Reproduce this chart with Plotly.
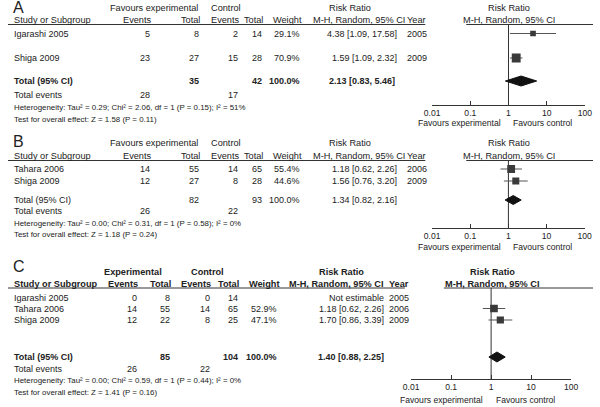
import plotly.graph_objects as go
import math

# ---------------- DATA ----------------
# Panel A
A_studies = ["Igarashi 2005", "Shiga 2009"]
A_exp_events = [5, 23]
A_exp_total = [8, 27]
A_ctl_events = [2, 15]
A_ctl_total = [14, 28]
A_weight = [29.1, 70.9]
A_rr = [4.38, 1.59]
A_lo = [1.09, 1.09]
A_hi = [17.58, 2.32]
A_year = [2005, 2009]
A_total = {"exp": 35, "ctl": 42, "rr": 2.13, "lo": 0.83, "hi": 5.46, "ev_exp": 28, "ev_ctl": 17}
A_het = "Heterogeneity: Tau² = 0.29; Chi² = 2.06, df = 1 (P = 0.15); I² = 51%"
A_test = "Test for overall effect: Z = 1.58 (P = 0.11)"

# Panel B
B_studies = ["Tahara 2006", "Shiga 2009"]
B_exp_events = [14, 12]
B_exp_total = [55, 27]
B_ctl_events = [14, 8]
B_ctl_total = [65, 28]
B_weight = [55.4, 44.6]
B_rr = [1.18, 1.56]
B_lo = [0.62, 0.76]
B_hi = [2.26, 3.20]
B_year = [2006, 2009]
B_total = {"exp": 82, "ctl": 93, "rr": 1.34, "lo": 0.82, "hi": 2.16, "ev_exp": 26, "ev_ctl": 22}
B_het = "Heterogeneity: Tau² = 0.00; Chi² = 0.31, df = 1 (P = 0.58); I² = 0%"
B_test = "Test for overall effect: Z = 1.18 (P = 0.24)"

# Panel C
C_studies = ["Igarashi 2005", "Tahara 2006", "Shiga 2009"]
C_exp_events = [0, 14, 12]
C_exp_total = [8, 55, 22]
C_ctl_events = [0, 14, 8]
C_ctl_total = [14, 65, 25]
C_weight = [None, 52.9, 47.1]
C_rr = [None, 1.18, 1.70]
C_lo = [None, 0.62, 0.86]
C_hi = [None, 2.26, 3.39]
C_year = [2005, 2006, 2009]
C_total = {"exp": 85, "ctl": 104, "rr": 1.40, "lo": 0.88, "hi": 2.25, "ev_exp": 26, "ev_ctl": 22}
C_het = "Heterogeneity: Tau² = 0.00; Chi² = 0.59, df = 1 (P = 0.44); I² = 0%"
C_test = "Test for overall effect: Z = 1.41 (P = 0.16)"

tick_vals = [0.01, 0.1, 1, 10, 100]
tick_text = ["0.01", "0.1", "1", "10", "100"]

# ---------------- STYLE / LAYOUT ----------------
W, H = 600, 407
FONT = "Liberation Sans, Arial, sans-serif"
TXT = "#222222"
LINE = "#333333"
FS = 9.0
FS_HEAD = 9.2
FS_FOOT = 7.9
FS_AX = 8.6
FS_LETTER = 16

panels = [
    dict(letter="A", letter_y=7.5, studies=A_studies, ee=A_exp_events, et=A_exp_total, ce=A_ctl_events,
         ct=A_ctl_total, w=A_weight, rr=A_rr, lo=A_lo, hi=A_hi, yr=A_year, tot=A_total, het=A_het, test=A_test,
         grp1="Favours experimental", bold_head=False, bold_total=True,
         h1=7.5, h2=20, ul=24.5, rows=[33.5, 58], total_y=81, ev_y=95, het_y=107, test_y=119,
         axis_y=105, fav_y=123, ax_l=435, ax_r=591.7, lul_end=428, rul_start=470,
         c_ee=147, c_et=197, c_ce=237, c_ct=262, c_w=301, c_rr=400, c_yr=408,
         h_grp1=150, h_grp2=224, h_rr=351, h_mh=312, h_w=303, dia_h=5),
    dict(letter="B", letter_y=141.5, studies=B_studies, ee=B_exp_events, et=B_exp_total, ce=B_ctl_events,
         ct=B_ctl_total, w=B_weight, rr=B_rr, lo=B_lo, hi=B_hi, yr=B_year, tot=B_total, het=B_het, test=B_test,
         grp1="Favours experimental", bold_head=False, bold_total=False,
         h1=143, h2=156, ul=160.5, rows=[169, 181], total_y=200, ev_y=211, het_y=223, test_y=234,
         axis_y=227.5, fav_y=247, ax_l=435, ax_r=591.5, lul_end=428, rul_start=470,
         c_ee=147, c_et=197, c_ce=237, c_ct=262, c_w=301, c_rr=400, c_yr=408,
         h_grp1=150, h_grp2=224, h_rr=351, h_mh=312, h_w=303, dia_h=4.5),
    dict(letter="C", letter_y=266.5, studies=C_studies, ee=C_exp_events, et=C_exp_total, ce=C_ctl_events,
         ct=C_ctl_total, w=C_weight, rr=C_rr, lo=C_lo, hi=C_hi, yr=C_year, tot=C_total, het=C_het, test=C_test,
         grp1="Experimental", bold_head=True, bold_total=True,
         h1=272, h2=284, ul=288, rows=[298, 308.5, 320], total_y=357, ev_y=369, het_y=380, test_y=392,
         axis_y=379, fav_y=400, ax_l=413.5, ax_r=577.5, lul_end=407, rul_start=447,
         c_ee=133, c_et=167, c_ce=208, c_ct=237, c_w=277, c_rr=387, c_yr=390,
         h_grp1=128, h_grp2=205, h_rr=342, h_mh=287, h_w=279, dia_h=5),
]

fig = go.Figure()
annotations = []
shapes = []


def txt(x, y, s, anchor="left", size=FS, bold=False):
    annotations.append(dict(
        x=x, y=y, xref="x", yref="y", text=(f"<b>{s}</b>" if bold else s),
        showarrow=False, xanchor=anchor, yanchor="middle", borderpad=0,
        font=dict(size=size, family=FONT, color=TXT)))


def hline(x0, x1, y):
    shapes.append(dict(type="line", xref="x", yref="y", x0=x0, x1=x1, y0=y, y1=y,
                       line=dict(color=LINE, width=1)))


layout_axes = {}
for i, p in enumerate(panels):
    bh = p["bold_head"]
    bt = p["bold_total"]
    # panel letter
    txt(4, p["letter_y"], p["letter"], size=FS_LETTER)
    # header row 1
    txt(p["h_grp1"], p["h1"], p["grp1"], "center", size=FS_HEAD, bold=bh)
    txt(p["h_grp2"], p["h1"], "Control", "center", size=FS_HEAD, bold=bh)
    txt(p["h_rr"], p["h1"], "Risk Ratio", "center", size=FS_HEAD, bold=bh)
    # header row 2
    txt(5, p["h2"], "Study or Subgroup", size=FS_HEAD, bold=bh)
    txt(p["c_ee"] + 1, p["h2"], "Events", "right", size=FS_HEAD, bold=bh)
    txt(p["c_et"] + 1, p["h2"], "Total", "right", size=FS_HEAD, bold=bh)
    txt(p["c_ce"] + 1, p["h2"], "Events", "right", size=FS_HEAD, bold=bh)
    txt(p["c_ct"] + 1, p["h2"], "Total", "right", size=FS_HEAD, bold=bh)
    txt(p["h_w"], p["h2"], "Weight", "right", size=FS_HEAD, bold=bh)
    txt(p["h_mh"], p["h2"], "M-H, Random, 95% CI", "left", size=FS_HEAD, bold=bh)
    txt(p["c_yr"], p["h2"], "Year", "left", size=FS_HEAD, bold=bh)
    hline(0, p["lul_end"], p["ul"])
    hline(p["rul_start"], 600, p["ul"])

    ax_center = p["ax_l"] + (p["ax_r"] - p["ax_l"]) / 2
    txt(ax_center + 1, p["h1"], "Risk Ratio", "center", size=FS_HEAD, bold=bh)
    txt(ax_center + 1, p["h2"], "M-H, Random, 95% CI", "center", size=FS_HEAD, bold=bh)

    # study rows
    for j, name in enumerate(p["studies"]):
        y = p["rows"][j]
        txt(5, y, name)
        txt(p["c_ee"], y, str(p["ee"][j]), "right")
        txt(p["c_et"], y, str(p["et"][j]), "right")
        txt(p["c_ce"], y, str(p["ce"][j]), "right")
        txt(p["c_ct"], y, str(p["ct"][j]), "right")
        if p["w"][j] is not None:
            txt(p["c_w"], y, f"{p['w'][j]:.1f}%", "right")
        if p["rr"][j] is not None:
            txt(p["c_rr"], y, f"{p['rr'][j]:.2f} [{p['lo'][j]:.2f}, {p['hi'][j]:.2f}]", "right")
        else:
            txt(p["c_rr"], y, "Not estimable", "right")
        txt(p["c_yr"], y, str(p["yr"][j]))

    t = p["tot"]
    txt(5, p["total_y"], "Total (95% CI)", bold=bt)
    txt(p["c_et"], p["total_y"], str(t["exp"]), "right", bold=bt)
    txt(p["c_ct"], p["total_y"], str(t["ctl"]), "right", bold=bt)
    txt(p["c_w"], p["total_y"], "100.0%", "right", bold=bt)
    txt(p["c_rr"] - (2 if p["letter"] == "A" else 0), p["total_y"],
        f"{t['rr']:.2f} [{t['lo']:.2f}, {t['hi']:.2f}]", "right", bold=bt)
    txt(5, p["ev_y"], "Total events")
    txt(p["c_ee"], p["ev_y"], str(t["ev_exp"]), "right")
    txt(p["c_ce"], p["ev_y"], str(t["ev_ctl"]), "right")
    txt(5, p["het_y"], p["het"], size=FS_FOOT)
    txt(5, p["test_y"], p["test"], size=FS_FOOT)

    # forest plot
    xa = f"x{i + 2}"
    fig.add_trace(go.Scatter(x=[1, 1], y=[p["ul"], p["axis_y"]], xaxis=xa, yaxis="y", mode="lines",
                             line=dict(color=LINE, width=1), hoverinfo="skip", showlegend=False))
    for j in range(len(p["studies"])):
        if p["rr"][j] is None:
            continue
        y = p["rows"][j]
        fig.add_trace(go.Scatter(x=[p["lo"][j], p["hi"][j]], y=[y, y], xaxis=xa, yaxis="y", mode="lines",
                                 line=dict(color="#555555", width=1), hoverinfo="skip", showlegend=False))
        fig.add_trace(go.Scatter(x=[p["rr"][j]], y=[y], xaxis=xa, yaxis="y", mode="markers",
                                 marker=dict(symbol="square", size=1.05 * math.sqrt(p["w"][j]),
                                             color="#3a3a3a", line=dict(width=0)),
                                 hoverinfo="skip", showlegend=False))
    yc = p["total_y"]
    dh = p["dia_h"]
    fig.add_trace(go.Scatter(x=[t["lo"], t["rr"], t["hi"], t["rr"], t["lo"]],
                             y=[yc, yc - dh, yc, yc + dh, yc], xaxis=xa, yaxis="y", mode="lines",
                             fill="toself", fillcolor="#111111", line=dict(color="#111111", width=1),
                             hoverinfo="skip", showlegend=False))
    txt(ax_center - 7, p["fav_y"], "Favours experimental", "right", size=FS_AX)
    txt(ax_center + 4, p["fav_y"], "Favours control", "left", size=FS_AX)

    layout_axes[f"xaxis{i + 2}"] = dict(
        type="log", range=[-2, 2], domain=[p["ax_l"] / W, p["ax_r"] / W],
        anchor="free", position=1 - p["axis_y"] / H,
        showline=True, linecolor=LINE, linewidth=1, showgrid=False, zeroline=False,
        ticks="inside", ticklen=4, tickcolor=LINE, tickwidth=1,
        tickvals=tick_vals, ticktext=tick_text,
        tickfont=dict(size=FS_AX, family=FONT, color=TXT), fixedrange=True)

fig.update_layout(
    width=W, height=H, autosize=False,
    margin=dict(l=0, r=0, t=0, b=0, pad=0),
    paper_bgcolor="white", plot_bgcolor="rgba(0,0,0,0)",
    xaxis=dict(range=[0, W], domain=[0, 1], visible=False, fixedrange=True),
    yaxis=dict(range=[H, 0], domain=[0, 1], visible=False, fixedrange=True),
    annotations=annotations, shapes=shapes, showlegend=False,
    **layout_axes)

fig.write_html("out.html", config={"displayModeBar": False},
               post_script="document.body.style.margin='0';document.body.style.overflow='hidden';")
